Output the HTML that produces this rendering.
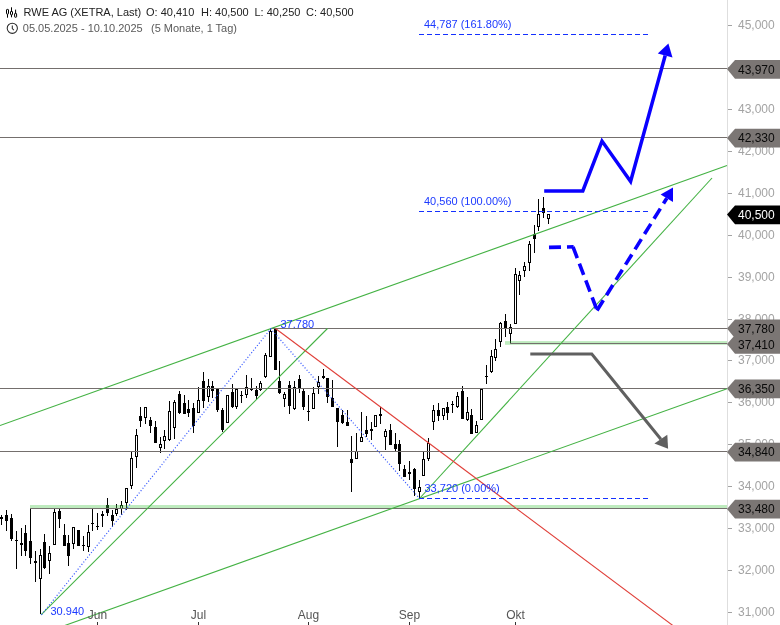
<!DOCTYPE html>
<html lang="de"><head><meta charset="utf-8"><title>RWE AG Chart</title>
<style>
html,body{margin:0;padding:0;background:#fff;}
body{width:780px;height:625px;overflow:hidden;}
svg{display:block;}
svg text{font-family:"Liberation Sans",Arial,sans-serif;}
.ax{font-size:12px;fill:#a3a3a3;}
.fl{font-size:12px;fill:#111;}
.mo{font-size:12px;fill:#555;text-anchor:middle;}
.bl{font-size:11px;fill:#1c3aff;}
.h1{font-size:11px;fill:#222;}
.h2{font-size:11px;fill:#5a5a5a;}
</style></head><body>
<svg width="780" height="625" viewBox="0 0 780 625">
<rect width="780" height="625" fill="#fff"/>

<g id="yaxis">
<rect x="727" y="0" width="1" height="625" fill="#dedede"/>
<rect x="728" y="612" width="4" height="1" fill="#a3a3a3"/>
<text class="ax" x="738" y="616.0">31,000</text>
<rect x="728" y="570" width="4" height="1" fill="#a3a3a3"/>
<text class="ax" x="738" y="574.1">32,000</text>
<rect x="728" y="528" width="4" height="1" fill="#a3a3a3"/>
<text class="ax" x="738" y="532.2">33,000</text>
<rect x="728" y="486" width="4" height="1" fill="#a3a3a3"/>
<text class="ax" x="738" y="490.2">34,000</text>
<rect x="728" y="444" width="4" height="1" fill="#a3a3a3"/>
<text class="ax" x="738" y="448.3">35,000</text>
<rect x="728" y="402" width="4" height="1" fill="#a3a3a3"/>
<text class="ax" x="738" y="406.4">36,000</text>
<rect x="728" y="360" width="4" height="1" fill="#a3a3a3"/>
<text class="ax" x="738" y="364.4">37,000</text>
<rect x="728" y="319" width="4" height="1" fill="#a3a3a3"/>
<text class="ax" x="738" y="322.5">38,000</text>
<rect x="728" y="277" width="4" height="1" fill="#a3a3a3"/>
<text class="ax" x="738" y="280.6">39,000</text>
<rect x="728" y="235" width="4" height="1" fill="#a3a3a3"/>
<text class="ax" x="738" y="238.7">40,000</text>
<rect x="728" y="193" width="4" height="1" fill="#a3a3a3"/>
<text class="ax" x="738" y="196.7">41,000</text>
<rect x="728" y="151" width="4" height="1" fill="#a3a3a3"/>
<text class="ax" x="738" y="154.8">42,000</text>
<rect x="728" y="109" width="4" height="1" fill="#a3a3a3"/>
<text class="ax" x="738" y="112.9">43,000</text>
<rect x="728" y="67" width="4" height="1" fill="#a3a3a3"/>
<text class="ax" x="738" y="70.9">44,000</text>
<rect x="728" y="25" width="4" height="1" fill="#a3a3a3"/>
<text class="ax" x="738" y="29.0">45,000</text>
</g>
<g id="candles" shape-rendering="crispEdges">
<rect x="1" y="514.5" width="1" height="10.8" fill="#000"/>
<rect x="0" y="517.0" width="3" height="1.5" fill="#000"/>
<rect x="6" y="510.2" width="1" height="20.3" fill="#000"/>
<rect x="5" y="515.0" width="3" height="5.5" fill="#000"/>
<rect x="11" y="514.0" width="1" height="26.5" fill="#000"/>
<rect x="10" y="517.7" width="3" height="21.6" fill="#000"/>
<rect x="16" y="530.5" width="1" height="38.5" fill="#000"/>
<rect x="15" y="540.0" width="3" height="1.3" fill="#000"/>
<rect x="21" y="527.8" width="1" height="27.7" fill="#000"/>
<rect x="20" y="543.0" width="3" height="1.5" fill="#000"/>
<rect x="25" y="525.0" width="1" height="30.5" fill="#000"/>
<rect x="24" y="533.0" width="3" height="17.7" fill="#000"/>
<rect x="30" y="508.3" width="1" height="55.5" fill="#000"/>
<rect x="29" y="541.0" width="3" height="16.6" fill="#000"/>
<rect x="35" y="550.7" width="1" height="30.8" fill="#000"/>
<rect x="34" y="561.0" width="3" height="1.5" fill="#000"/>
<rect x="40" y="548.8" width="1" height="65.2" fill="#000"/>
<rect x="39" y="555.0" width="3" height="23.8" fill="#000"/>
<rect x="40" y="556.0" width="1" height="21.8" fill="#fff"/>
<rect x="44" y="534.0" width="1" height="34.6" fill="#000"/>
<rect x="43" y="542.0" width="3" height="26.0" fill="#000"/>
<rect x="49" y="546.0" width="1" height="27.8" fill="#000"/>
<rect x="48" y="553.0" width="3" height="8.3" fill="#000"/>
<rect x="49" y="554.0" width="1" height="6.3" fill="#fff"/>
<rect x="54" y="508.3" width="1" height="36.2" fill="#000"/>
<rect x="53" y="512.2" width="3" height="32.3" fill="#000"/>
<rect x="54" y="513.2" width="1" height="30.3" fill="#fff"/>
<rect x="59" y="508.3" width="1" height="19.5" fill="#000"/>
<rect x="58" y="511.4" width="3" height="7.6" fill="#000"/>
<rect x="64" y="523.9" width="1" height="22.1" fill="#000"/>
<rect x="63" y="534.7" width="3" height="11.3" fill="#000"/>
<rect x="68" y="535.3" width="1" height="30.6" fill="#000"/>
<rect x="67" y="543.0" width="3" height="12.5" fill="#000"/>
<rect x="73" y="527.0" width="1" height="21.8" fill="#000"/>
<rect x="72" y="527.4" width="3" height="16.2" fill="#000"/>
<rect x="73" y="528.4" width="1" height="14.2" fill="#fff"/>
<rect x="78" y="530.0" width="1" height="15.7" fill="#000"/>
<rect x="77" y="530.0" width="3" height="15.7" fill="#000"/>
<rect x="83" y="536.0" width="1" height="14.7" fill="#000"/>
<rect x="82" y="545.0" width="3" height="1.2" fill="#000"/>
<rect x="88" y="525.0" width="1" height="27.0" fill="#000"/>
<rect x="87" y="532.2" width="3" height="14.3" fill="#000"/>
<rect x="88" y="533.2" width="1" height="12.3" fill="#fff"/>
<rect x="92" y="508.3" width="1" height="22.2" fill="#000"/>
<rect x="91" y="522.8" width="3" height="1.5" fill="#000"/>
<rect x="97" y="513.3" width="1" height="16.7" fill="#000"/>
<rect x="96" y="525.8" width="3" height="1.2" fill="#000"/>
<rect x="102" y="511.2" width="1" height="15.6" fill="#000"/>
<rect x="101" y="514.0" width="3" height="1.6" fill="#000"/>
<rect x="107" y="497.7" width="1" height="18.7" fill="#000"/>
<rect x="106" y="505.0" width="3" height="7.9" fill="#000"/>
<rect x="112" y="510.2" width="1" height="16.6" fill="#000"/>
<rect x="111" y="515.0" width="3" height="6.2" fill="#000"/>
<rect x="116" y="504.0" width="1" height="11.8" fill="#000"/>
<rect x="115" y="509.1" width="3" height="4.8" fill="#000"/>
<rect x="116" y="510.1" width="1" height="2.8" fill="#fff"/>
<rect x="121" y="501.2" width="1" height="13.6" fill="#000"/>
<rect x="120" y="505.0" width="3" height="3.7" fill="#000"/>
<rect x="121" y="506.0" width="1" height="1.7" fill="#fff"/>
<rect x="126" y="488.4" width="1" height="21.8" fill="#000"/>
<rect x="125" y="488.4" width="3" height="14.5" fill="#000"/>
<rect x="126" y="489.4" width="1" height="12.5" fill="#fff"/>
<rect x="131" y="452.0" width="1" height="36.8" fill="#000"/>
<rect x="130" y="458.2" width="3" height="27.5" fill="#000"/>
<rect x="131" y="459.2" width="1" height="25.5" fill="#fff"/>
<rect x="136" y="429.1" width="1" height="38.5" fill="#000"/>
<rect x="135" y="435.3" width="3" height="21.9" fill="#000"/>
<rect x="136" y="436.3" width="1" height="19.9" fill="#fff"/>
<rect x="140" y="407.3" width="1" height="19.3" fill="#000"/>
<rect x="139" y="416.0" width="3" height="4.8" fill="#000"/>
<rect x="145" y="407.3" width="1" height="16.2" fill="#000"/>
<rect x="144" y="407.3" width="3" height="11.0" fill="#000"/>
<rect x="145" y="408.3" width="1" height="9.0" fill="#fff"/>
<rect x="150" y="417.0" width="1" height="15.6" fill="#000"/>
<rect x="149" y="420.2" width="3" height="5.8" fill="#000"/>
<rect x="155" y="420.8" width="1" height="21.8" fill="#000"/>
<rect x="154" y="426.6" width="3" height="16.0" fill="#000"/>
<rect x="160" y="437.4" width="1" height="15.6" fill="#000"/>
<rect x="159" y="444.0" width="3" height="4.4" fill="#000"/>
<rect x="160" y="445.0" width="1" height="2.4" fill="#fff"/>
<rect x="164" y="430.1" width="1" height="18.8" fill="#000"/>
<rect x="163" y="436.4" width="3" height="4.8" fill="#000"/>
<rect x="164" y="437.4" width="1" height="2.8" fill="#fff"/>
<rect x="169" y="401.1" width="1" height="39.5" fill="#000"/>
<rect x="168" y="410.9" width="3" height="29.3" fill="#000"/>
<rect x="169" y="411.9" width="1" height="27.3" fill="#fff"/>
<rect x="174" y="399.6" width="1" height="38.9" fill="#000"/>
<rect x="173" y="402.1" width="3" height="25.4" fill="#000"/>
<rect x="174" y="403.1" width="1" height="23.4" fill="#fff"/>
<rect x="179" y="390.7" width="1" height="22.9" fill="#000"/>
<rect x="178" y="393.8" width="3" height="18.7" fill="#000"/>
<rect x="184" y="394.8" width="1" height="18.8" fill="#000"/>
<rect x="183" y="403.2" width="3" height="10.4" fill="#000"/>
<rect x="188" y="400.0" width="1" height="16.7" fill="#000"/>
<rect x="187" y="409.0" width="3" height="4.0" fill="#000"/>
<rect x="193" y="403.2" width="1" height="29.7" fill="#000"/>
<rect x="192" y="407.7" width="3" height="18.7" fill="#000"/>
<rect x="198" y="387.0" width="1" height="26.1" fill="#000"/>
<rect x="197" y="400.0" width="3" height="12.5" fill="#000"/>
<rect x="198" y="401.0" width="1" height="10.5" fill="#fff"/>
<rect x="203" y="372.0" width="1" height="36.4" fill="#000"/>
<rect x="202" y="380.9" width="3" height="19.8" fill="#000"/>
<rect x="208" y="378.8" width="1" height="23.3" fill="#000"/>
<rect x="207" y="386.1" width="3" height="10.4" fill="#000"/>
<rect x="208" y="387.1" width="1" height="8.4" fill="#fff"/>
<rect x="212" y="380.9" width="1" height="17.1" fill="#000"/>
<rect x="211" y="386.1" width="3" height="4.6" fill="#000"/>
<rect x="217" y="388.6" width="1" height="22.9" fill="#000"/>
<rect x="216" y="388.6" width="3" height="21.8" fill="#000"/>
<rect x="222" y="407.7" width="1" height="24.6" fill="#000"/>
<rect x="221" y="409.8" width="3" height="20.0" fill="#000"/>
<rect x="227" y="395.3" width="1" height="27.2" fill="#000"/>
<rect x="226" y="395.3" width="3" height="27.2" fill="#000"/>
<rect x="227" y="396.3" width="1" height="25.2" fill="#fff"/>
<rect x="232" y="384.0" width="1" height="23.7" fill="#000"/>
<rect x="231" y="392.1" width="3" height="15.2" fill="#000"/>
<rect x="236" y="388.6" width="1" height="20.2" fill="#000"/>
<rect x="235" y="389.2" width="3" height="18.1" fill="#000"/>
<rect x="236" y="390.2" width="1" height="16.1" fill="#fff"/>
<rect x="241" y="390.7" width="1" height="12.0" fill="#000"/>
<rect x="240" y="394.8" width="3" height="1.2" fill="#000"/>
<rect x="246" y="375.1" width="1" height="22.9" fill="#000"/>
<rect x="245" y="387.0" width="3" height="8.3" fill="#000"/>
<rect x="246" y="388.0" width="1" height="6.3" fill="#fff"/>
<rect x="251" y="378.2" width="1" height="12.9" fill="#000"/>
<rect x="250" y="388.6" width="3" height="1.4" fill="#000"/>
<rect x="256" y="386.1" width="1" height="13.5" fill="#000"/>
<rect x="255" y="390.3" width="3" height="5.6" fill="#000"/>
<rect x="260" y="380.9" width="1" height="9.8" fill="#000"/>
<rect x="259" y="383.0" width="3" height="7.3" fill="#000"/>
<rect x="260" y="384.0" width="1" height="5.3" fill="#fff"/>
<rect x="265" y="352.6" width="1" height="25.2" fill="#000"/>
<rect x="264" y="355.3" width="3" height="21.2" fill="#000"/>
<rect x="265" y="356.3" width="1" height="19.2" fill="#fff"/>
<rect x="270" y="328.3" width="1" height="29.1" fill="#000"/>
<rect x="269" y="331.4" width="3" height="26.0" fill="#000"/>
<rect x="270" y="332.4" width="1" height="24.0" fill="#fff"/>
<rect x="275" y="328.3" width="1" height="41.6" fill="#000"/>
<rect x="274" y="328.7" width="3" height="41.2" fill="#000"/>
<rect x="279" y="361.0" width="1" height="32.8" fill="#000"/>
<rect x="278" y="380.9" width="3" height="12.5" fill="#000"/>
<rect x="284" y="391.7" width="1" height="15.6" fill="#000"/>
<rect x="283" y="393.8" width="3" height="4.8" fill="#000"/>
<rect x="284" y="394.8" width="1" height="2.8" fill="#fff"/>
<rect x="289" y="381.3" width="1" height="32.3" fill="#000"/>
<rect x="288" y="385.1" width="3" height="21.2" fill="#000"/>
<rect x="294" y="380.9" width="1" height="28.9" fill="#000"/>
<rect x="293" y="386.5" width="3" height="22.9" fill="#000"/>
<rect x="294" y="387.5" width="1" height="20.9" fill="#fff"/>
<rect x="299" y="375.1" width="1" height="17.7" fill="#000"/>
<rect x="298" y="379.3" width="3" height="8.9" fill="#000"/>
<rect x="303" y="388.6" width="1" height="21.2" fill="#000"/>
<rect x="302" y="390.7" width="3" height="16.2" fill="#000"/>
<rect x="308" y="394.8" width="1" height="26.0" fill="#000"/>
<rect x="307" y="410.9" width="3" height="1.2" fill="#000"/>
<rect x="313" y="386.5" width="1" height="22.9" fill="#000"/>
<rect x="312" y="393.2" width="3" height="16.2" fill="#000"/>
<rect x="313" y="394.2" width="1" height="14.2" fill="#fff"/>
<rect x="318" y="375.7" width="1" height="18.7" fill="#000"/>
<rect x="317" y="382.4" width="3" height="4.1" fill="#000"/>
<rect x="318" y="383.4" width="1" height="2.1" fill="#fff"/>
<rect x="323" y="369.3" width="1" height="9.3" fill="#000"/>
<rect x="322" y="375.7" width="3" height="2.1" fill="#000"/>
<rect x="327" y="378.2" width="1" height="24.3" fill="#000"/>
<rect x="326" y="378.2" width="3" height="18.3" fill="#000"/>
<rect x="332" y="380.3" width="1" height="27.0" fill="#000"/>
<rect x="331" y="398.0" width="3" height="9.3" fill="#000"/>
<rect x="337" y="408.4" width="1" height="39.0" fill="#000"/>
<rect x="336" y="408.4" width="3" height="13.5" fill="#000"/>
<rect x="342" y="409.8" width="1" height="14.6" fill="#000"/>
<rect x="341" y="415.0" width="3" height="7.9" fill="#000"/>
<rect x="347" y="409.8" width="1" height="15.8" fill="#000"/>
<rect x="346" y="422.3" width="3" height="3.3" fill="#000"/>
<rect x="351" y="436.2" width="1" height="55.7" fill="#000"/>
<rect x="350" y="459.2" width="3" height="3.6" fill="#000"/>
<rect x="356" y="432.6" width="1" height="26.0" fill="#000"/>
<rect x="355" y="451.3" width="3" height="7.3" fill="#000"/>
<rect x="356" y="452.3" width="1" height="5.3" fill="#fff"/>
<rect x="361" y="411.8" width="1" height="29.8" fill="#000"/>
<rect x="360" y="436.8" width="3" height="4.8" fill="#000"/>
<rect x="361" y="437.8" width="1" height="2.8" fill="#fff"/>
<rect x="366" y="416.0" width="1" height="20.8" fill="#000"/>
<rect x="365" y="430.1" width="3" height="4.0" fill="#000"/>
<rect x="371" y="422.2" width="1" height="17.7" fill="#000"/>
<rect x="370" y="428.9" width="3" height="1.6" fill="#000"/>
<rect x="375" y="415.0" width="1" height="12.4" fill="#000"/>
<rect x="374" y="415.4" width="3" height="12.0" fill="#000"/>
<rect x="375" y="416.4" width="1" height="10.0" fill="#fff"/>
<rect x="380" y="407.3" width="1" height="16.6" fill="#000"/>
<rect x="379" y="414.3" width="3" height="1.5" fill="#000"/>
<rect x="385" y="429.1" width="1" height="20.8" fill="#000"/>
<rect x="384" y="430.5" width="3" height="6.9" fill="#000"/>
<rect x="385" y="431.5" width="1" height="4.9" fill="#fff"/>
<rect x="390" y="424.3" width="1" height="20.4" fill="#000"/>
<rect x="389" y="430.1" width="3" height="14.6" fill="#000"/>
<rect x="395" y="433.0" width="1" height="17.9" fill="#000"/>
<rect x="394" y="444.0" width="3" height="4.8" fill="#000"/>
<rect x="399" y="439.9" width="1" height="30.8" fill="#000"/>
<rect x="398" y="444.0" width="3" height="19.8" fill="#000"/>
<rect x="404" y="464.8" width="1" height="12.5" fill="#000"/>
<rect x="403" y="468.6" width="3" height="8.3" fill="#000"/>
<rect x="409" y="461.1" width="1" height="19.3" fill="#000"/>
<rect x="408" y="472.1" width="3" height="1.5" fill="#000"/>
<rect x="414" y="468.0" width="1" height="28.0" fill="#000"/>
<rect x="413" y="468.6" width="3" height="20.8" fill="#000"/>
<rect x="419" y="480.0" width="1" height="18.1" fill="#000"/>
<rect x="418" y="486.7" width="3" height="5.2" fill="#000"/>
<rect x="419" y="487.7" width="1" height="3.2" fill="#fff"/>
<rect x="423" y="451.3" width="1" height="24.4" fill="#000"/>
<rect x="422" y="459.2" width="3" height="16.5" fill="#000"/>
<rect x="423" y="460.2" width="1" height="14.5" fill="#fff"/>
<rect x="428" y="437.8" width="1" height="22.9" fill="#000"/>
<rect x="427" y="443.0" width="3" height="15.6" fill="#000"/>
<rect x="428" y="444.0" width="1" height="13.6" fill="#fff"/>
<rect x="433" y="404.6" width="1" height="24.9" fill="#000"/>
<rect x="432" y="410.3" width="3" height="12.1" fill="#000"/>
<rect x="433" y="411.3" width="1" height="10.1" fill="#fff"/>
<rect x="438" y="403.0" width="1" height="17.5" fill="#000"/>
<rect x="437" y="410.3" width="3" height="5.2" fill="#000"/>
<rect x="443" y="407.7" width="1" height="12.5" fill="#000"/>
<rect x="442" y="408.3" width="3" height="8.1" fill="#000"/>
<rect x="443" y="409.3" width="1" height="6.1" fill="#fff"/>
<rect x="447" y="401.5" width="1" height="18.1" fill="#000"/>
<rect x="446" y="407.3" width="3" height="6.0" fill="#000"/>
<rect x="452" y="400.9" width="1" height="12.4" fill="#000"/>
<rect x="451" y="404.0" width="3" height="1.2" fill="#000"/>
<rect x="457" y="391.7" width="1" height="16.6" fill="#000"/>
<rect x="456" y="395.9" width="3" height="10.8" fill="#000"/>
<rect x="457" y="396.9" width="1" height="8.8" fill="#fff"/>
<rect x="462" y="385.9" width="1" height="32.6" fill="#000"/>
<rect x="461" y="391.1" width="3" height="27.4" fill="#000"/>
<rect x="467" y="396.9" width="1" height="23.7" fill="#000"/>
<rect x="466" y="411.9" width="3" height="8.3" fill="#000"/>
<rect x="467" y="412.9" width="1" height="6.3" fill="#fff"/>
<rect x="471" y="408.8" width="1" height="25.3" fill="#000"/>
<rect x="470" y="415.0" width="3" height="19.1" fill="#000"/>
<rect x="476" y="420.8" width="1" height="12.3" fill="#000"/>
<rect x="475" y="425.0" width="3" height="8.1" fill="#000"/>
<rect x="476" y="426.0" width="1" height="6.1" fill="#fff"/>
<rect x="481" y="388.6" width="1" height="31.6" fill="#000"/>
<rect x="480" y="388.6" width="3" height="31.6" fill="#000"/>
<rect x="481" y="389.6" width="1" height="29.6" fill="#fff"/>
<rect x="486" y="365.1" width="1" height="19.3" fill="#000"/>
<rect x="485" y="375.9" width="3" height="1.2" fill="#000"/>
<rect x="491" y="349.5" width="1" height="23.9" fill="#000"/>
<rect x="490" y="356.2" width="3" height="15.5" fill="#000"/>
<rect x="491" y="357.2" width="1" height="13.5" fill="#fff"/>
<rect x="495" y="339.1" width="1" height="21.4" fill="#000"/>
<rect x="494" y="349.1" width="3" height="8.7" fill="#000"/>
<rect x="495" y="350.1" width="1" height="6.7" fill="#fff"/>
<rect x="500" y="321.9" width="1" height="25.5" fill="#000"/>
<rect x="499" y="322.5" width="3" height="19.7" fill="#000"/>
<rect x="500" y="323.5" width="1" height="17.7" fill="#fff"/>
<rect x="505" y="314.2" width="1" height="22.8" fill="#000"/>
<rect x="504" y="321.4" width="3" height="7.9" fill="#000"/>
<rect x="510" y="324.1" width="1" height="18.7" fill="#000"/>
<rect x="509" y="327.0" width="3" height="7.3" fill="#000"/>
<rect x="510" y="328.0" width="1" height="5.3" fill="#fff"/>
<rect x="515" y="268.0" width="1" height="55.5" fill="#000"/>
<rect x="514" y="274.2" width="3" height="49.3" fill="#000"/>
<rect x="515" y="275.2" width="1" height="47.3" fill="#fff"/>
<rect x="519" y="271.1" width="1" height="23.5" fill="#000"/>
<rect x="518" y="275.2" width="3" height="5.7" fill="#000"/>
<rect x="519" y="276.2" width="1" height="3.7" fill="#fff"/>
<rect x="524" y="262.1" width="1" height="14.6" fill="#000"/>
<rect x="523" y="266.3" width="3" height="4.4" fill="#000"/>
<rect x="524" y="267.3" width="1" height="2.4" fill="#fff"/>
<rect x="529" y="240.9" width="1" height="29.8" fill="#000"/>
<rect x="528" y="244.1" width="3" height="18.7" fill="#000"/>
<rect x="529" y="245.1" width="1" height="16.7" fill="#fff"/>
<rect x="534" y="224.9" width="1" height="27.9" fill="#000"/>
<rect x="533" y="234.3" width="3" height="4.6" fill="#000"/>
<rect x="538" y="198.9" width="1" height="32.1" fill="#000"/>
<rect x="537" y="214.3" width="3" height="12.7" fill="#000"/>
<rect x="538" y="215.3" width="1" height="10.7" fill="#fff"/>
<rect x="543" y="196.9" width="1" height="21.2" fill="#000"/>
<rect x="542" y="208.3" width="3" height="5.0" fill="#000"/>
<rect x="548" y="214.3" width="1" height="9.6" fill="#000"/>
<rect x="547" y="214.3" width="3" height="4.4" fill="#000"/>
<rect x="548" y="215.3" width="1" height="2.4" fill="#fff"/>
</g>
<rect x="30" y="505" width="697" height="3" fill="#45c645" fill-opacity="0.35"/>
<rect x="505" y="341.1" width="222" height="3.7" fill="#45c645" fill-opacity="0.35"/>
<line x1="0" y1="68.5" x2="727" y2="68.5" stroke="#746f6d" stroke-width="1"/>
<line x1="0" y1="137.5" x2="727" y2="137.5" stroke="#746f6d" stroke-width="1"/>
<line x1="270.5" y1="328.5" x2="727" y2="328.5" stroke="#746f6d" stroke-width="1"/>
<line x1="510" y1="343.5" x2="727" y2="343.5" stroke="#746f6d" stroke-width="1"/>
<line x1="0" y1="388.5" x2="727" y2="388.5" stroke="#746f6d" stroke-width="1"/>
<line x1="0" y1="451.5" x2="727" y2="451.5" stroke="#746f6d" stroke-width="1"/>
<line x1="30" y1="508.5" x2="727" y2="508.5" stroke="#746f6d" stroke-width="1"/>
<g stroke="#44b244" stroke-width="1.1" fill="none">
<line x1="0" y1="425.5" x2="727" y2="165.5"/>
<line x1="63.4" y1="626" x2="727" y2="388.7"/>
<line x1="41" y1="614.8" x2="327.5" y2="328.5"/>
<line x1="419.5" y1="498.5" x2="712" y2="178"/>
</g>
<line x1="275.5" y1="328.5" x2="673.5" y2="626" stroke="#e0403a" stroke-width="1.1"/>
<g stroke="#3a5bff" stroke-width="1.2" stroke-dasharray="1.1 1.95" fill="none">
<line x1="41.5" y1="614.8" x2="271" y2="328.5"/>
<line x1="270.5" y1="328.5" x2="419.5" y2="498.5"/>
</g>
<g stroke="#1430ff" stroke-width="1.2" stroke-dasharray="5 3" fill="none">
<line x1="419" y1="34.5" x2="648" y2="34.5"/>
<line x1="419" y1="211.5" x2="648" y2="211.5"/>
<line x1="419" y1="498.5" x2="648" y2="498.5"/>
</g>
<g fill="none" stroke-linejoin="miter" stroke-miterlimit="10">
<polyline points="544.2,191 582.8,191 602,141.1 630.6,181.5 665.2,55.5" stroke="#0a00ff" stroke-width="3.5"/>
<polygon points="668.4,43.4 657.8,53.4 672.5,57.5" fill="#0a00ff" stroke="none"/>
<g stroke="#0a00ff" stroke-width="3.6" stroke-dasharray="12 6">
<line x1="549" y1="247.4" x2="573.6" y2="246.8"/>
<line x1="573" y1="246.8" x2="597" y2="310"/>
<line x1="597" y1="310.5" x2="666.8" y2="198.2"/>
</g>
<polygon points="673,187.4 660.6,194.5 673,201.9" fill="#0a00ff" stroke="none"/>
<polyline points="530.3,354 591.8,354 660.9,439.2" stroke="#606060" stroke-width="3"/>
<polygon points="668.1,448.7 654.4,443.6 667.3,434.8" fill="#606060" stroke="none"/>
</g>
<text class="bl" x="280.5" y="328.4">37.780</text>
<text class="bl" x="50.5" y="615">30.940</text>
<text class="bl" x="424" y="27.8">44,787 (161.80%)</text>
<text class="bl" x="424" y="204.8">40,560 (100.00%)</text>
<text class="bl" x="424.5" y="491.8">33,720 (0.00%)</text>
<polygon points="727,69.1 735,59.9 780,59.9 780,78.8 735,78.8" fill="#7b7674"/>
<text x="738" y="73.5" font-size="12" fill="#0a0a0a">43,970</text>
<polygon points="727,137.9 735,128.7 780,128.7 780,147.6 735,147.6" fill="#7b7674"/>
<text x="738" y="142.3" font-size="12" fill="#0a0a0a">42,330</text>
<polygon points="727,328.6 735,319.4 780,319.4 780,338.3 735,338.3" fill="#7b7674"/>
<text x="738" y="333.0" font-size="12" fill="#0a0a0a">37,780</text>
<polygon points="727,344.1 735,334.9 780,334.9 780,353.8 735,353.8" fill="#7b7674"/>
<text x="738" y="348.5" font-size="12" fill="#0a0a0a">37,410</text>
<polygon points="727,388.6 735,379.4 780,379.4 780,398.3 735,398.3" fill="#7b7674"/>
<text x="738" y="393.0" font-size="12" fill="#0a0a0a">36,350</text>
<polygon points="727,451.9 735,442.7 780,442.7 780,461.6 735,461.6" fill="#7b7674"/>
<text x="738" y="456.3" font-size="12" fill="#0a0a0a">34,840</text>
<polygon points="727,508.9 735,499.7 780,499.7 780,518.6 735,518.6" fill="#7b7674"/>
<text x="738" y="513.3" font-size="12" fill="#0a0a0a">33,480</text>
<polygon points="727,214.6 735,205.4 780,205.4 780,224.3 735,224.3" fill="#000"/>
<text x="738" y="219.0" font-size="12" fill="#fff">40,500</text>
<text class="mo" x="97.5" y="619">Jun</text>
<rect x="97" y="622" width="1" height="3" fill="#333"/>
<text class="mo" x="198.5" y="619">Jul</text>
<rect x="198" y="622" width="1" height="3" fill="#333"/>
<text class="mo" x="308.5" y="619">Aug</text>
<rect x="308" y="622" width="1" height="3" fill="#333"/>
<text class="mo" x="409.5" y="619">Sep</text>
<rect x="409" y="622" width="1" height="3" fill="#333"/>
<text class="mo" x="515.5" y="619">Okt</text>
<rect x="515" y="622" width="1" height="3" fill="#333"/>
<g id="hdr">
<g stroke="#000" stroke-width="1" fill="#fff">
<line x1="7.5" y1="14.2" x2="7.5" y2="17.7"/><rect x="6.5" y="9.4" width="2" height="4.7" rx="0.6"/>
<line x1="11.5" y1="7.3" x2="11.5" y2="17.3"/><rect x="10.5" y="11.4" width="2" height="3.5" rx="0.5"/>
<line x1="15.6" y1="9.6" x2="15.6" y2="13.1"/><rect x="14.6" y="13.4" width="2" height="3.8" rx="0.5"/>
</g>
<circle cx="12.3" cy="28.3" r="5.1" fill="none" stroke="#2a2a2a" stroke-width="1.05"/>
<polyline points="12.3,25.6 12.3,28.6 13.9,30.1" fill="none" stroke="#2a2a2a" stroke-width="1.05"/>
<text class="h1" y="16"><tspan x="23.5">RWE AG (XETRA, Last)</tspan><tspan x="146">O: 40,410</tspan><tspan x="201">H: 40,500</tspan><tspan x="254.5">L: 40,250</tspan><tspan x="306">C: 40,500</tspan></text>
<text class="h2" y="31.5"><tspan x="22.8">05.05.2025 - 10.10.2025</tspan><tspan x="151">(5 Monate, 1 Tag)</tspan></text>
</g>
</svg></body></html>
